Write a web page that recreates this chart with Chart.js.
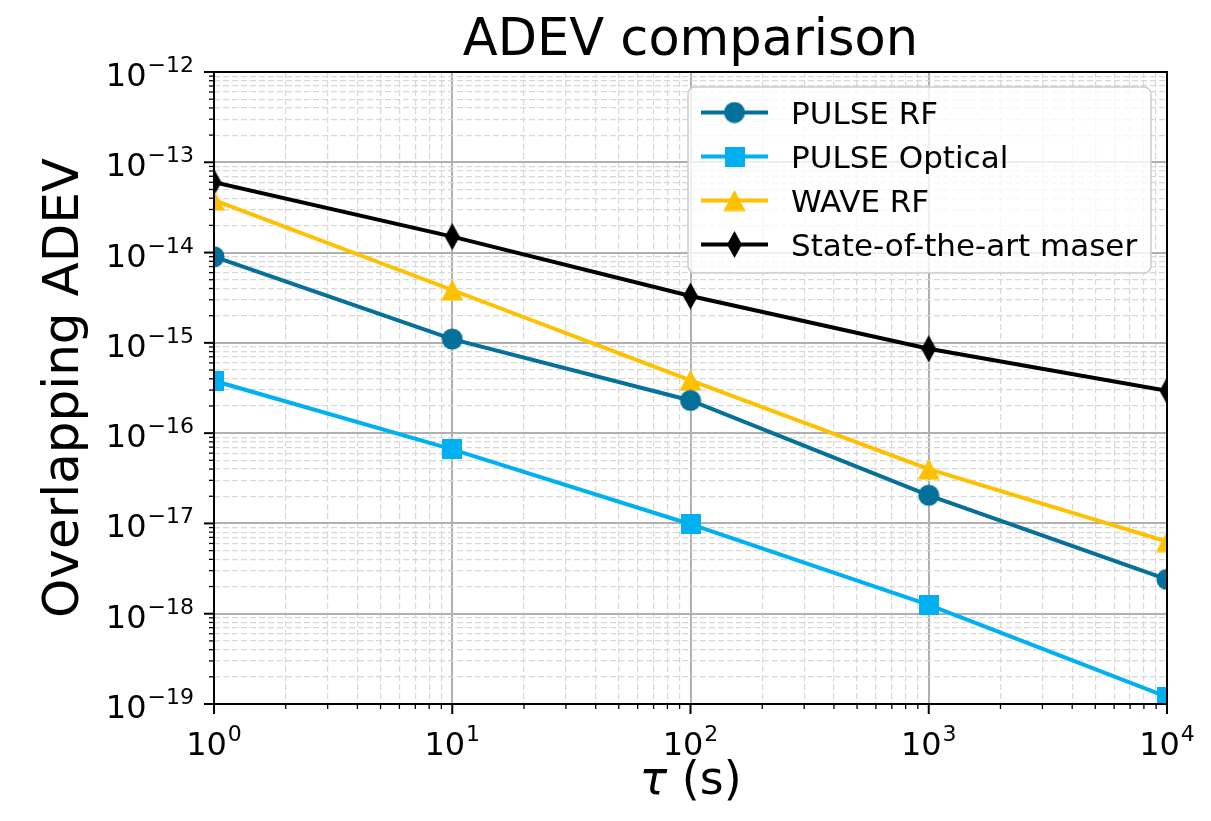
<!DOCTYPE html>
<html>
<head>
  <meta charset="utf-8">
  <title>ADEV comparison</title>
  <style>
    body { margin: 0; background: #fff; }
    #wrap { width: 1211px; height: 821px; }
  </style>
</head>
<body>
  <div id="wrap"><canvas id="adevChart"></canvas></div>
  <script src="https://cdn.jsdelivr.net/npm/chart.js"></script>
  <script>
    // values (log-log)
    const tauValues = [1, 10, 100, 1000, 10000];
    const pulseRf = [9.0e-15, 1.1e-15, 2.3e-16, 2.05e-17, 2.4e-18];
    const pulseOptical = [3.8e-16, 6.6e-17, 9.8e-18, 1.25e-18, 1.2e-19];
    const waveRf = [3.8e-14, 3.85e-15, 3.85e-16, 4.0e-17, 6.3e-18];
    const maser = [6.0e-14, 1.5e-14, 3.3e-15, 8.6e-16, 2.95e-16];
    const seriesLabels = ['PULSE RF', 'PULSE Optical', 'WAVE RF', 'State-of-the-art maser'];
    const xTickExponents = [0, 1, 2, 3, 4];
    const yTickExponents = [-19, -18, -17, -16, -15, -14, -13, -12];
    const chartTitle = 'ADEV comparison';
    const xAxisSymbol = 'τ';
    const xAxisUnit = ' (s)';
    const yAxisTitle = 'Overlapping ADEV';

    const FONT = '"DejaVu Sans", sans-serif';
    const colors = ['#05709a', '#00b0f0', '#ffc000', '#000000'];
    const markerKinds = ['circle', 'square', 'triangle', 'thinDiamond'];

    function makeMarker(kind, color) {
      const sizes = { circle: [22, 22], square: [20, 20], triangle: [23, 22], thinDiamond: [15, 27] };
      const c = document.createElement('canvas');
      c.width = sizes[kind][0];
      c.height = sizes[kind][1];
      const g = c.getContext('2d');
      g.fillStyle = color;
      g.beginPath();
      if (kind === 'circle') {
        g.arc(11, 11, 10.5, 0, Math.PI * 2);
      } else if (kind === 'square') {
        g.rect(0, 0, 20, 20);
      } else if (kind === 'triangle') {
        g.moveTo(11.5, 0.5); g.lineTo(22.5, 21.5); g.lineTo(0.5, 21.5);
      } else {
        g.moveTo(7.5, 0); g.lineTo(15, 13.5); g.lineTo(7.5, 27); g.lineTo(0, 13.5);
      }
      g.closePath();
      g.fill();
      return c;
    }
    const markers = markerKinds.map((k, i) => makeMarker(k, colors[i]));

    function logTicks(exps) {
      const lo = exps[0], hi = exps[exps.length - 1];
      const t = [];
      for (let e = lo; e < hi; e++) {
        for (let m = 1; m <= 9; m++) t.push({ value: m * Math.pow(10, e), major: m === 1 });
      }
      t.push({ value: Math.pow(10, hi), major: true });
      return t;
    }

    const toPoints = arr => tauValues.map((t, i) => ({ x: t, y: arr[i] }));
    const seriesData = [pulseRf, pulseOptical, waveRf, maser];

    const datasets = seriesData.map((arr, i) => ({
      label: seriesLabels[i],
      data: toPoints(arr),
      borderColor: colors[i],
      backgroundColor: colors[i],
      borderWidth: 4,
      pointStyle: markers[i],
      pointRadius: 10,
      pointHoverRadius: 10,
      tension: 0,
      clip: 0
    }));

    const gridFor = {
      drawTicks: false,
      color: c => (c.tick && c.tick.major) ? '#b0b0b0' : '#d8d8d8',
      lineWidth: c => (c.tick && c.tick.major) ? 2 : 1.2
    };
    const borderFor = {
      display: false,
      dash: c => (c.tick && !c.tick.major) ? [6, 3] : []
    };

    const supMinus = s => s.replace('-', '\u2212');

    function drawPow(ctx, exp, x, baseY, align) {
      const base = '10', sup = supMinus(String(exp));
      ctx.font = '32px ' + FONT;
      const bw = ctx.measureText(base).width;
      ctx.font = '22px ' + FONT;
      const sw = ctx.measureText(sup).width;
      const total = bw + 1 + sw;
      let left = align === 'right' ? x - total : x - total / 2;
      ctx.textAlign = 'left';
      ctx.textBaseline = 'alphabetic';
      ctx.font = '32px ' + FONT;
      ctx.fillText(base, left, baseY);
      ctx.font = '22px ' + FONT;
      ctx.fillText(sup, left + bw + 1, baseY - 14);
    }

    const annotate = {
      id: 'annotate',
      afterDraw(chart) {
        const ctx = chart.ctx;
        const a = chart.chartArea;
        const xs = chart.scales.x, ys = chart.scales.y;
        ctx.save();
        ctx.fillStyle = '#000';
        ctx.strokeStyle = '#000';

        // spines
        ctx.lineWidth = 2;
        ctx.strokeRect(a.left, a.top, a.right - a.left, a.bottom - a.top);

        // tick marks
        xs.ticks.forEach(t => {
          const px = xs.getPixelForValue(t.value);
          ctx.lineWidth = t.major ? 2 : 1.3;
          ctx.beginPath();
          ctx.moveTo(px, a.bottom);
          ctx.lineTo(px, a.bottom + (t.major ? 10 : 5));
          ctx.stroke();
        });
        ys.ticks.forEach(t => {
          const py = ys.getPixelForValue(t.value);
          ctx.lineWidth = t.major ? 2 : 1.3;
          ctx.beginPath();
          ctx.moveTo(a.left, py);
          ctx.lineTo(a.left - (t.major ? 10 : 5), py);
          ctx.stroke();
        });

        // tick labels
        xTickExponents.forEach(e => {
          drawPow(ctx, e, xs.getPixelForValue(Math.pow(10, e)), a.bottom + 51, 'center');
        });
        yTickExponents.forEach(e => {
          drawPow(ctx, e, a.left - 20, ys.getPixelForValue(Math.pow(10, e)) + 14, 'right');
        });

        // title and axis titles
        const cx = (a.left + a.right) / 2, cy = (a.top + a.bottom) / 2;
        ctx.textAlign = 'center';
        ctx.textBaseline = 'alphabetic';
        ctx.font = '51px ' + FONT;
        ctx.fillText(chartTitle, cx, 55);

        ctx.textAlign = 'left';
        ctx.font = 'italic 46px ' + FONT;
        const symW = ctx.measureText(xAxisSymbol).width;
        ctx.font = '46px ' + FONT;
        const unitW = ctx.measureText(xAxisUnit).width;
        const xl = cx - (symW + unitW) / 2;
        ctx.font = 'italic 46px ' + FONT;
        ctx.fillText(xAxisSymbol, xl, a.bottom + 90);
        ctx.font = '46px ' + FONT;
        ctx.fillText(xAxisUnit, xl + symW, a.bottom + 90);

        ctx.save();
        ctx.translate(78, cy);
        ctx.rotate(-Math.PI / 2);
        ctx.textAlign = 'center';
        ctx.font = '50px ' + FONT;
        ctx.fillText(yAxisTitle, 0, 0);
        ctx.restore();

        // legend
        const lx = a.right - 16, lw = 463, lh = 186;
        const left = lx - lw, top = a.top + 15;
        ctx.beginPath();
        ctx.roundRect(left, top, lw, lh, 7);
        ctx.fillStyle = 'rgba(255,255,255,0.8)';
        ctx.fill();
        ctx.lineWidth = 1.5;
        ctx.strokeStyle = '#cccccc';
        ctx.stroke();
        seriesLabels.forEach((name, i) => {
          const ry = top + 25.5 + i * 44;
          ctx.strokeStyle = colors[i];
          ctx.lineWidth = 4;
          ctx.beginPath();
          ctx.moveTo(left + 13, ry);
          ctx.lineTo(left + 80, ry);
          ctx.stroke();
          const m = markers[i];
          ctx.drawImage(m, left + 46.5 - m.width / 2, ry - m.height / 2);
          ctx.fillStyle = '#000';
          ctx.textAlign = 'left';
          ctx.font = '31px ' + FONT;
          ctx.fillText(name, left + 103, ry + 11.5);
        });
        ctx.restore();
      }
    };

    new Chart(document.getElementById('adevChart'), {
      type: 'line',
      data: { datasets },
      options: {
        responsive: true,
        maintainAspectRatio: false,
        animation: false,
        layout: { padding: { left: 214, right: 44, top: 72, bottom: 117 } },
        plugins: { legend: { display: false }, title: { display: false }, tooltip: { enabled: false } },
        scales: {
          x: {
            type: 'logarithmic',
            min: 1, max: 1e4,
            afterBuildTicks: s => { s.ticks = logTicks(xTickExponents); },
            ticks: { display: false, autoSkip: false },
            grid: gridFor,
            border: borderFor
          },
          y: {
            type: 'logarithmic',
            min: 1e-19, max: 1e-12,
            afterBuildTicks: s => { s.ticks = logTicks(yTickExponents); },
            ticks: { display: false, autoSkip: false },
            grid: gridFor,
            border: borderFor
          }
        }
      },
      plugins: [annotate]
    });
  </script>
</body>
</html>
